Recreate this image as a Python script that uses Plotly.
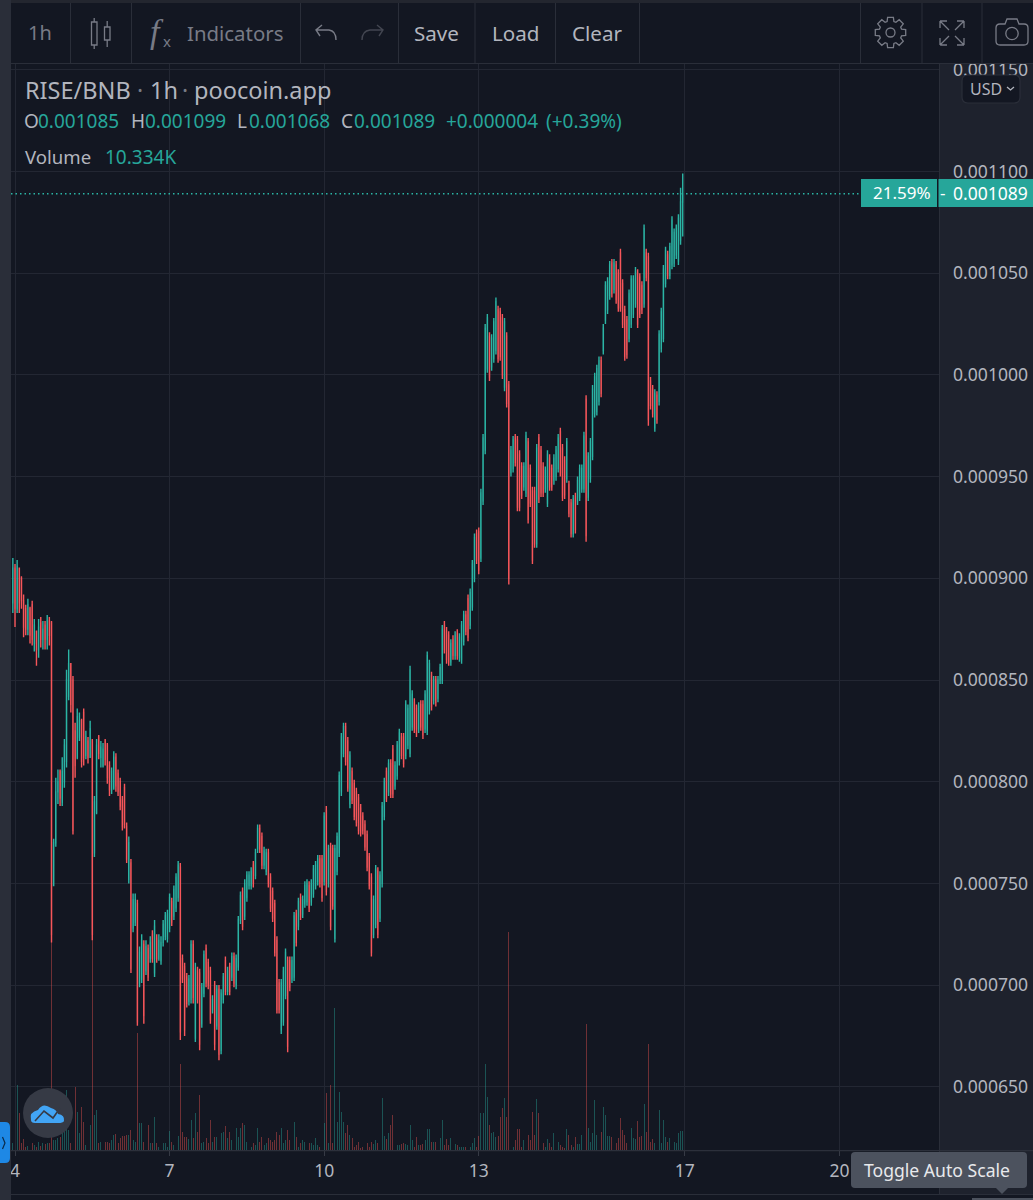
import re
import math
import pandas as pd
import plotly.graph_objects as go

# Hourly RISE/BNB candles, prices in millionths of a BNB.
FIRST_CANDLE = "2021-05-03 23:00"

opens = [
    888,905,885,905,900,889,885,875,885,887,868,874,865,878,870,877,870,879,878,749,
    770,795,805,790,800,810,842,858,850,825,812,822,830,834,813,820,812,820,765,785,
    822,812,808,820,818,808,796,797,812,804,800,791,797,778,752,760,728,731,740,701,
    703,720,707,718,713,725,706,723,713,712,721,724,723,728,741,734,738,743,758,713,
    709,704,692,693,720,674,707,706,681,696,718,711,707,688,700,680,698,668,693,712,
    697,709,704,714,700,709,732,746,734,743,749,749,759,754,767,777,773,759,756,765,
    753,746,740,722,701,678,682,695,712,712,703,704,735,729,743,735,740,741,749,741,
    745,749,751,762,762,751,786,750,768,767,723,756,765,795,814,827,820,789,805,799,
    795,792,787,783,779,774,763,753,725,730,756,733,750,783,805,795,809,816,798,803,
    810,822,822,813,818,814,827,839,836,826,838,838,826,825,835,852,840,850,841,850,
    850,877,874,872,859,870,862,873,861,860,869,882,890,877,886,900,922,923,910,938,
    963,1003,1019,1004,1008,1012,1032,1031,1028,994,1019,995,952,954,969,968,961,955,945,942,
    967,954,943,943,917,969,963,955,944,937,959,954,948,950,954,972,964,958,949,946,
    937,922,940,938,940,944,944,988,940,949,960,981,982,987,1007,1012,1027,1032,1039,1055,
    1042,1054,1050,1060,1045,1032,1027,1018,1025,1030,1035,1050,1048,1044,1035,1060,1058,997,993,974,
    990,987,1013,1018,1045,1059,1049,1054,1055,1059,1056,1066,1085,
]
highs = [
    910,907,909,905,901,892,887,890,886,889,880,874,880,881,879,879,882,881,879,772,
    802,806,806,812,821,855,865,858,852,829,836,834,831,836,825,822,830,821,793,821,
    823,820,819,821,819,810,807,815,814,806,802,793,799,780,773,762,745,745,742,719,
    725,722,722,720,724,727,732,725,725,724,732,736,737,745,743,749,755,761,760,715,
    711,706,705,722,722,711,709,708,701,717,720,713,709,695,702,700,700,698,706,714,
    709,711,716,716,715,734,746,748,752,756,756,758,761,767,779,779,775,768,767,767,
    755,748,742,724,703,703,709,718,714,714,714,736,737,743,745,744,751,752,751,752,
    759,761,764,764,764,785,788,769,770,769,769,775,805,824,829,829,822,815,807,801,
    797,794,789,785,781,776,765,755,744,759,758,756,790,802,807,811,811,818,810,820,
    826,824,824,840,838,857,845,841,838,839,840,840,845,864,860,854,852,852,852,858,
    877,879,876,874,870,872,874,875,873,879,884,884,892,895,909,922,924,925,944,971,
    1025,1030,1021,1020,1028,1038,1034,1033,1030,1028,1021,997,965,970,971,970,963,957,957,972,
    969,956,945,945,966,971,965,957,955,963,961,956,961,965,971,974,966,960,969,948,
    939,941,942,950,956,956,972,990,962,969,995,1001,1005,1009,1009,1025,1046,1048,1056,1057,
    1057,1056,1052,1062,1047,1034,1029,1042,1049,1049,1053,1052,1050,1046,1074,1062,1060,999,995,993,
    992,1022,1033,1054,1063,1061,1065,1078,1072,1074,1079,1092,1099,
]
lows = [
    883,876,883,883,885,871,872,872,868,867,864,857,861,866,865,865,865,867,721,749,
    768,789,788,788,797,807,840,834,774,802,811,820,807,808,811,809,812,722,763,784,
    811,807,807,808,799,793,794,796,795,793,786,776,777,760,750,706,726,729,680,699,
    701,681,705,702,711,711,704,711,712,710,719,722,721,726,729,732,736,741,673,701,
    675,689,690,691,691,672,691,668,679,694,699,698,681,686,668,678,663,666,691,695,
    695,695,702,699,698,707,730,727,732,741,747,747,748,752,765,765,757,757,754,748,
    736,731,714,686,686,676,680,693,667,697,701,702,719,727,732,733,738,739,736,739,
    743,747,749,748,741,749,744,748,727,737,721,754,763,793,812,808,795,787,789,781,
    778,774,773,774,766,756,747,714,723,728,723,731,748,781,790,793,792,792,796,801,
    808,811,807,811,816,812,825,824,822,824,825,821,824,823,833,835,838,837,839,848,
    848,863,858,857,857,860,860,860,859,858,867,872,869,875,884,898,907,902,908,936,
    961,1001,997,1002,1006,1010,1006,1007,998,992,984,897,950,952,955,933,933,939,943,940,
    927,935,907,915,915,937,940,940,942,935,943,943,946,948,952,950,938,939,947,930,
    920,920,922,936,938,942,942,918,938,947,958,979,980,985,989,1010,1025,1030,1037,1038,
    1040,1035,1031,1031,1023,1007,1008,1016,1023,1028,1033,1023,1028,1030,1033,1046,975,983,979,972,
    976,985,1011,1016,1043,1047,1047,1052,1053,1057,1054,1064,1068,
]
closes = [
    905,885,906,888,889,876,875,887,872,870,877,865,876,870,875,870,879,872,725,770,
    795,800,792,805,818,850,858,838,776,808,832,830,810,812,822,812,826,725,790,818,
    814,817,816,811,802,796,805,812,798,795,788,778,779,762,770,708,742,742,682,716,
    722,685,719,704,721,713,729,713,722,721,730,734,735,743,731,747,753,759,677,703,
    678,691,703,720,694,708,693,671,699,715,701,700,683,693,671,698,666,696,704,697,
    707,697,714,701,713,732,744,729,750,754,754,756,750,765,777,767,759,766,765,750,
    738,733,716,688,688,701,707,716,670,699,712,734,721,741,734,742,749,750,738,750,
    757,759,762,750,743,783,746,767,729,739,767,773,803,822,827,810,797,813,791,783,
    780,776,775,776,768,758,749,716,742,757,725,754,788,800,792,809,794,794,808,818,
    824,813,809,838,836,855,843,826,824,837,827,823,843,862,858,837,850,839,850,856,
    875,865,860,859,868,862,872,862,871,877,882,874,871,893,907,920,909,904,942,969,
    1023,1028,999,1018,1026,1036,1008,1009,1000,1026,986,900,963,968,957,935,935,941,955,970,
    929,937,909,917,964,939,942,942,953,961,945,945,959,963,969,952,940,941,967,932,
    922,939,924,948,954,954,970,921,960,967,993,999,1003,1007,991,1023,1044,1046,1054,1040,
    1055,1037,1033,1033,1025,1009,1010,1040,1047,1047,1051,1025,1030,1032,1072,1048,978,985,981,991,
    978,1020,1031,1052,1061,1049,1063,1076,1070,1072,1077,1085,1089,
]
# Hourly traded volume, in thousands.
volumes_k = [
    3.5,38.1,34.5,19.5,3.5,5.7,1.8,2.1,2.1,3.5,2.7,1.8,4.4,2.1,3.5,3.2,3.5,3.5,110.4,5.3,
    5.3,6.2,7.1,8.9,10.6,31.9,10.6,3.5,63.7,33.3,20.4,8.9,23.0,15.0,2.7,3.5,13.3,111.5,18.6,21.2,
    3.5,4.4,1.8,4.4,4.4,3.5,5.3,8.0,8.5,3.5,6.2,7.4,7.4,8.0,8.0,10.6,5.3,4.4,62.0,14.2,
    14.5,4.4,5.3,13.3,3.5,3.5,17.7,3.5,1.8,3.5,3.5,3.5,1.8,10.3,4.4,2.7,8.0,7.4,45.7,9.7,
    7.1,7.1,5.7,15.9,6.2,19.5,9.7,28.9,3.5,4.4,6.2,3.5,15.9,4.4,7.1,6.7,15.9,8.9,9.7,12.7,
    6.2,9.7,5.3,4.4,11.5,6.7,11.5,14.2,13.3,4.4,0.9,1.8,3.5,2.7,11.5,4.4,6.7,2.7,3.5,6.2,
    5.3,4.4,5.3,9.7,8.0,11.5,3.5,5.3,10.6,5.3,3.5,15.0,7.1,1.8,3.5,5.3,4.4,3.5,3.5,3.5,
    2.7,6.2,2.7,1.8,13.3,14.2,30.1,3.5,34.5,3.5,75.2,15.0,31.0,20.4,15.0,8.9,13.3,8.0,6.2,1.8,
    2.7,4.4,0.9,1.8,2.7,3.5,1.8,4.4,3.2,5.3,3.5,15.0,27.4,7.4,5.7,9.2,13.3,18.6,3.2,2.7,
    2.7,3.2,3.5,3.2,2.7,13.3,5.3,1.8,6.7,2.7,2.7,3.2,5.3,11.0,11.0,4.4,4.4,4.4,3.9,6.2,
    15.9,2.7,5.7,2.7,6.2,1.8,3.2,2.7,1.8,1.8,1.4,1.8,3.2,1.8,3.5,6.2,1.8,7.4,19.5,19.5,
    45.7,28.3,13.3,8.9,9.7,7.1,7.4,17.7,22.1,27.4,17.7,115.8,2.1,1.8,5.3,11.0,11.0,1.8,5.3,8.0,
    8.0,5.3,20.4,8.0,26.9,19.5,9.2,3.5,1.8,5.7,3.5,1.8,9.2,1.8,4.4,2.7,1.8,0.9,11.0,8.0,
    2.7,1.8,6.7,3.2,3.2,8.0,18.6,66.9,11.5,4.4,8.9,26.6,8.0,5.3,9.7,23.0,18.6,7.4,7.4,6.7,
    6.2,3.5,6.2,16.8,10.6,8.0,3.5,9.7,11.5,6.2,5.7,15.6,7.1,7.4,24.4,9.7,56.3,4.4,5.7,3.5,
    1.8,21.2,3.9,15.9,7.1,4.4,6.2,10.3,4.4,3.5,8.9,10.3,10.334,
]
assert len(opens) == len(highs) == len(lows) == len(closes) == len(volumes_k)

price_ticks = [0.00065, 0.0007, 0.00075, 0.0008, 0.00085, 0.0009, 0.00095,
               0.001, 0.00105, 0.0011, 0.00115]
day_ticks = ["2021-05-04", "2021-05-07", "2021-05-10", "2021-05-13", "2021-05-17", "2021-05-20"]
day_labels = ["4", "7", "10", "13", "17", "20"]
last_price = 0.001089

TEAL = "#2bb5a5"
RED = "#f7565a"
TAG = "#26a69a"
BG = "#131722"
AXIS_BG = "#1e222d"
STRIP = "#2a2e39"
LINE = "#2a2e39"
GRID = "#232733"
TEXT = "#b2b5be"
DIM = "#787b86"
FONT = "Noto Sans"

# Pane rectangle on the page, in pixels.
L, R, T, B = 11, 939, 64, 1150
W, H = 1033, 1200


def fx(x):
    return (x - L) / (R - L)


def fy(y):
    return (B - y) / (B - T)


def svg(d):
    """Convert an SVG path written in page pixels into paper coordinates."""
    out, is_x = [], True
    for tok in re.findall(r"[A-Za-z]|-?\d+\.?\d*", d):
        if tok.isalpha():
            out.append(tok)
            is_x = True
        else:
            out.append(f"{fx(float(tok)) if is_x else fy(float(tok)):.5f}")
            is_x = not is_x
    return " ".join(out)


shapes, notes = [], []


def rect(x0, y0, x1, y1, fill, layer="above", line=None, lw=0):
    shapes.append(dict(type="rect", xref="paper", yref="paper", x0=fx(x0), x1=fx(x1),
                       y0=fy(y0), y1=fy(y1), fillcolor=fill, layer=layer,
                       line=dict(color=line or fill, width=lw)))


def path(d, color=None, width=1.5, fill=None):
    shapes.append(dict(type="path", xref="paper", yref="paper", path=svg(d), layer="above",
                       fillcolor=fill or "rgba(0,0,0,0)",
                       line=dict(color=color or "rgba(0,0,0,0)", width=width if color else 0)))


def circle(cx, cy, r, color=None, width=1.5, fill=None):
    shapes.append(dict(type="circle", xref="paper", yref="paper", x0=fx(cx - r), x1=fx(cx + r),
                       y0=fy(cy + r), y1=fy(cy - r), layer="above",
                       fillcolor=fill or "rgba(0,0,0,0)",
                       line=dict(color=color or "rgba(0,0,0,0)", width=width if color else 0)))


def text(x, y, s, size, color=TEXT, anchor="left", family=FONT):
    notes.append(dict(xref="paper", yref="paper", x=fx(x), y=fy(y), text=s, showarrow=False,
                      xanchor=anchor, yanchor="middle", borderpad=0, borderwidth=0,
                      font=dict(family=family, size=size, color=color)))


# Panels around the chart
rect(L, 0, W, T - 1, BG)
rect(0, 0, W, 3, "#23262f")
rect(0, 0, L, H, STRIP)
rect(R, T, W, 1194, AXIS_BG, layer="below")
rect(L, T - 1, W, T, LINE)
rect(R, T, R + 1, 1194, LINE)
rect(L, B, W, B + 1.2, "#2c303b")
rect(L, 1194, W, 1195, LINE)
rect(972, 1198, W, H, "#4c525e")
for sep in [70, 131, 300, 398, 474.5, 555, 639, 860, 921.5, 981.5]:
    rect(sep, 3, sep + 1, T - 1, LINE)

# Toolbar
text(40, 33, "1h", 20, DIM, "center")
rect(91.5, 22, 97, 45, "rgba(0,0,0,0)", line=DIM, lw=1.3)
rect(104.5, 27, 110, 40, "rgba(0,0,0,0)", line=DIM, lw=1.3)
path("M 94.2 18 L 94.2 22 M 94.2 45 L 94.2 49 M 107.2 21 L 107.2 27 M 107.2 40 L 107.2 47", DIM, 1.3)
text(150, 31, "<i>f</i>", 34, DIM, family="Liberation Serif")
text(163, 41, "x", 15, DIM)
text(187, 33, "Indicators", 20.4, DIM)
path("M 320 36 L 316 30 L 322 25 M 317 30 L 329 30 Q 336 31 336 40", DIM, 1.4)
path("M 379 36 L 383 30 L 377 25 M 382 30 L 370 30 Q 362 31 362 40", "#434651", 1.4)
text(414, 33, "Save", 20.6)
text(492, 33, "Load", 20.6)
text(572, 33, "Clear", 20.6)

# Gear outline
gear, gx, gy = [], 890.5, 32.5
for k in range(8):
    a = k * math.pi / 4
    for da, rad in [(-0.30, 11.5), (-0.19, 15.5), (0.19, 15.5), (0.30, 11.5)]:
        gear.append((gx + rad * math.cos(a + da), gy + rad * math.sin(a + da)))
path("M " + " L ".join(f"{a:.1f} {b:.1f}" for a, b in gear) + " Z", DIM, 1.3)
circle(gx, gy, 4.5, DIM, 1.3)

# Full-screen arrows
path("M 940 21 L 949 30 M 940 21 L 940 28 M 940 21 L 947 21 "
     "M 964 21 L 955 30 M 964 21 L 964 28 M 964 21 L 957 21 "
     "M 940 45 L 949 36 M 940 45 L 940 38 M 940 45 L 947 45 "
     "M 964 45 L 955 36 M 964 45 L 964 38 M 964 45 L 957 45", DIM, 1.3)

# Camera
path("M 1000 24 L 1005 24 L 1007 19 L 1017 19 L 1019 24 L 1024 24 Q 1028 24 1028 28 "
     "L 1028 41 Q 1028 45 1024 45 L 1000 45 Q 996 45 996 41 L 996 28 Q 996 24 1000 24 Z", DIM, 1.3)
circle(1012, 33.5, 6.2, DIM, 1.3)

# Legend block over the chart
text(25, 90, "RISE/BNB", 23.5)
text(137, 90, "·", 23, DIM)
text(150, 90, "1h", 23.5)
text(182, 90, "·", 23, DIM)
text(194, 90, "poocoin.app", 23.5)
for letter, lx, num, nx in [("O", 24, "0.001085", 38), ("H", 131, "0.001099", 145),
                            ("L", 237, "0.001068", 249), ("C", 341, "0.001089", 354)]:
    text(lx, 121, letter, 19)
    text(nx, 121, num, 19, TAG)
text(446, 121, "+0.000004", 19, TAG)
text(546, 121, "(+0.39%)", 19, TAG)
text(25, 157, "Volume", 18.6)
text(105, 157, "10.334K", 19, TAG)

# Currency switch
path("M 968 75 L 1014 75 Q 1020 75 1020 81 L 1020 97 Q 1020 103 1014 103 L 968 103 "
     "Q 962 103 962 97 L 962 81 Q 962 75 968 75 Z", "#2a2e39", 1.2, BG)
text(970, 89, "USD", 16)
path("M 1007 87 L 1010.5 90 L 1014 87", TEXT, 1.3)

# Last-price tags
rect(861, 179, 937, 207, TAG)
rect(938.5, 179, W, 207, TAG)
text(873, 193, "21.59%", 17, "#ffffff")
text(940, 193, "-", 17, "#ffffff")
text(953, 193, "0.001089", 17.5, "#ffffff")

# Side handle and logo
path("M 0 1122 L 5 1122 Q 10 1122 10 1127 L 10 1158 Q 10 1163 5 1163 L 0 1163 Z", fill="#1e88e5")
path("M 2.5 1137 L 5 1143 L 2.5 1149", "#0b2a4a", 1.2)
circle(48, 1113, 25, fill="#363a45")
path("M 31 1120 Q 29 1112 38 1110 Q 43 1102 51 1108 Q 57 1110 58 1114 Q 65 1115 64 1121 "
     "Q 63 1123 58 1123 L 35 1123 Q 31 1123 31 1120 Z", fill="#42a5f5")
path("M 35 1121 L 44 1111 L 53 1118 L 60 1108", "#363a45", 1.6)

# Tooltip
path("M 855 1152 L 1023 1152 Q 1027 1152 1027 1156 L 1027 1184 Q 1027 1188 1023 1188 L 855 1188 "
     "Q 851 1188 851 1184 L 851 1156 Q 851 1152 855 1152 Z", fill="#4c525e")
path("M 996 1188 L 1002 1194 L 1008 1188 Z", fill="#4c525e")
text(864, 1170, "Toggle Auto Scale", 17.6, "#e8e9ec")

times = pd.date_range(FIRST_CANDLE, periods=len(closes), freq="h")
to_price = lambda seq: [v * 1e-6 for v in seq]

fig = go.Figure()
fig.add_trace(go.Bar(
    x=times, y=volumes_k, yaxis="y", showlegend=False, hoverinfo="skip",
    width=0.42 * 3600e3,
    marker=dict(color=["rgba(38,166,154,0.42)" if c >= o else "rgba(239,83,80,0.42)"
                       for o, c in zip(opens, closes)], line_width=0),
))
fig.add_trace(go.Candlestick(
    x=times, open=to_price(opens), high=to_price(highs), low=to_price(lows), close=to_price(closes),
    yaxis="y2", showlegend=False, whiskerwidth=0,
    increasing=dict(line=dict(color=TEAL, width=1.4), fillcolor=TEAL),
    decreasing=dict(line=dict(color=RED, width=1.4), fillcolor=RED),
))

# Dotted last-price line, running from the pane edge to the tag
shapes.append(dict(type="line", xref="paper", yref="y2", x0=0, x1=fx(860), y0=last_price, y1=last_price,
                   line=dict(color=TEAL, width=1.5, dash="1.5px,3px"), layer="above"))

tick4 = pd.Timestamp("2021-05-04")
hour_px = 2.147
x_start = tick4 - pd.Timedelta(hours=(15 - L) / hour_px)
x_end = tick4 + pd.Timedelta(hours=(R - 15) / hour_px)
# One millionth of a BNB spans 2.034 pixels on the price scale.
price_top = 0.0011 + (171.5 - T) / 2.034 * 1e-6
price_bottom = 0.0011 - (B - 171.5) / 2.034 * 1e-6
volume_top = (B - T) * 0.53

fig.update_layout(
    width=W, height=H, paper_bgcolor=BG, plot_bgcolor=BG,
    margin=dict(l=L, r=W - R, t=T, b=H - B, pad=0, autoexpand=False),
    showlegend=False, bargap=0, boxgap=0.9, font=dict(family=FONT, color=TEXT),
    shapes=shapes, annotations=notes, hovermode=False,
    xaxis=dict(type="date", range=[x_start, x_end], rangeslider=dict(visible=False),
               tickvals=day_ticks, ticktext=day_labels, tickfont=dict(size=17.5, color=TEXT),
               showgrid=True, gridcolor=GRID, gridwidth=1, zeroline=False, showline=False,
               ticks="outside", ticklen=5, tickcolor="#363a45", tickangle=0),
    yaxis=dict(range=[0, volume_top], visible=False, showgrid=False, zeroline=False),
    yaxis2=dict(overlaying="y", side="right", range=[price_bottom, price_top], tickvals=price_ticks,
                tickformat=".6f", tickfont=dict(size=17.6, color=TEXT), showgrid=True, gridcolor=GRID,
                gridwidth=1, zeroline=False, showline=False, ticks="", ticklabelstandoff=13),
)

fig.write_html("out.html", config=dict(displayModeBar=False))
